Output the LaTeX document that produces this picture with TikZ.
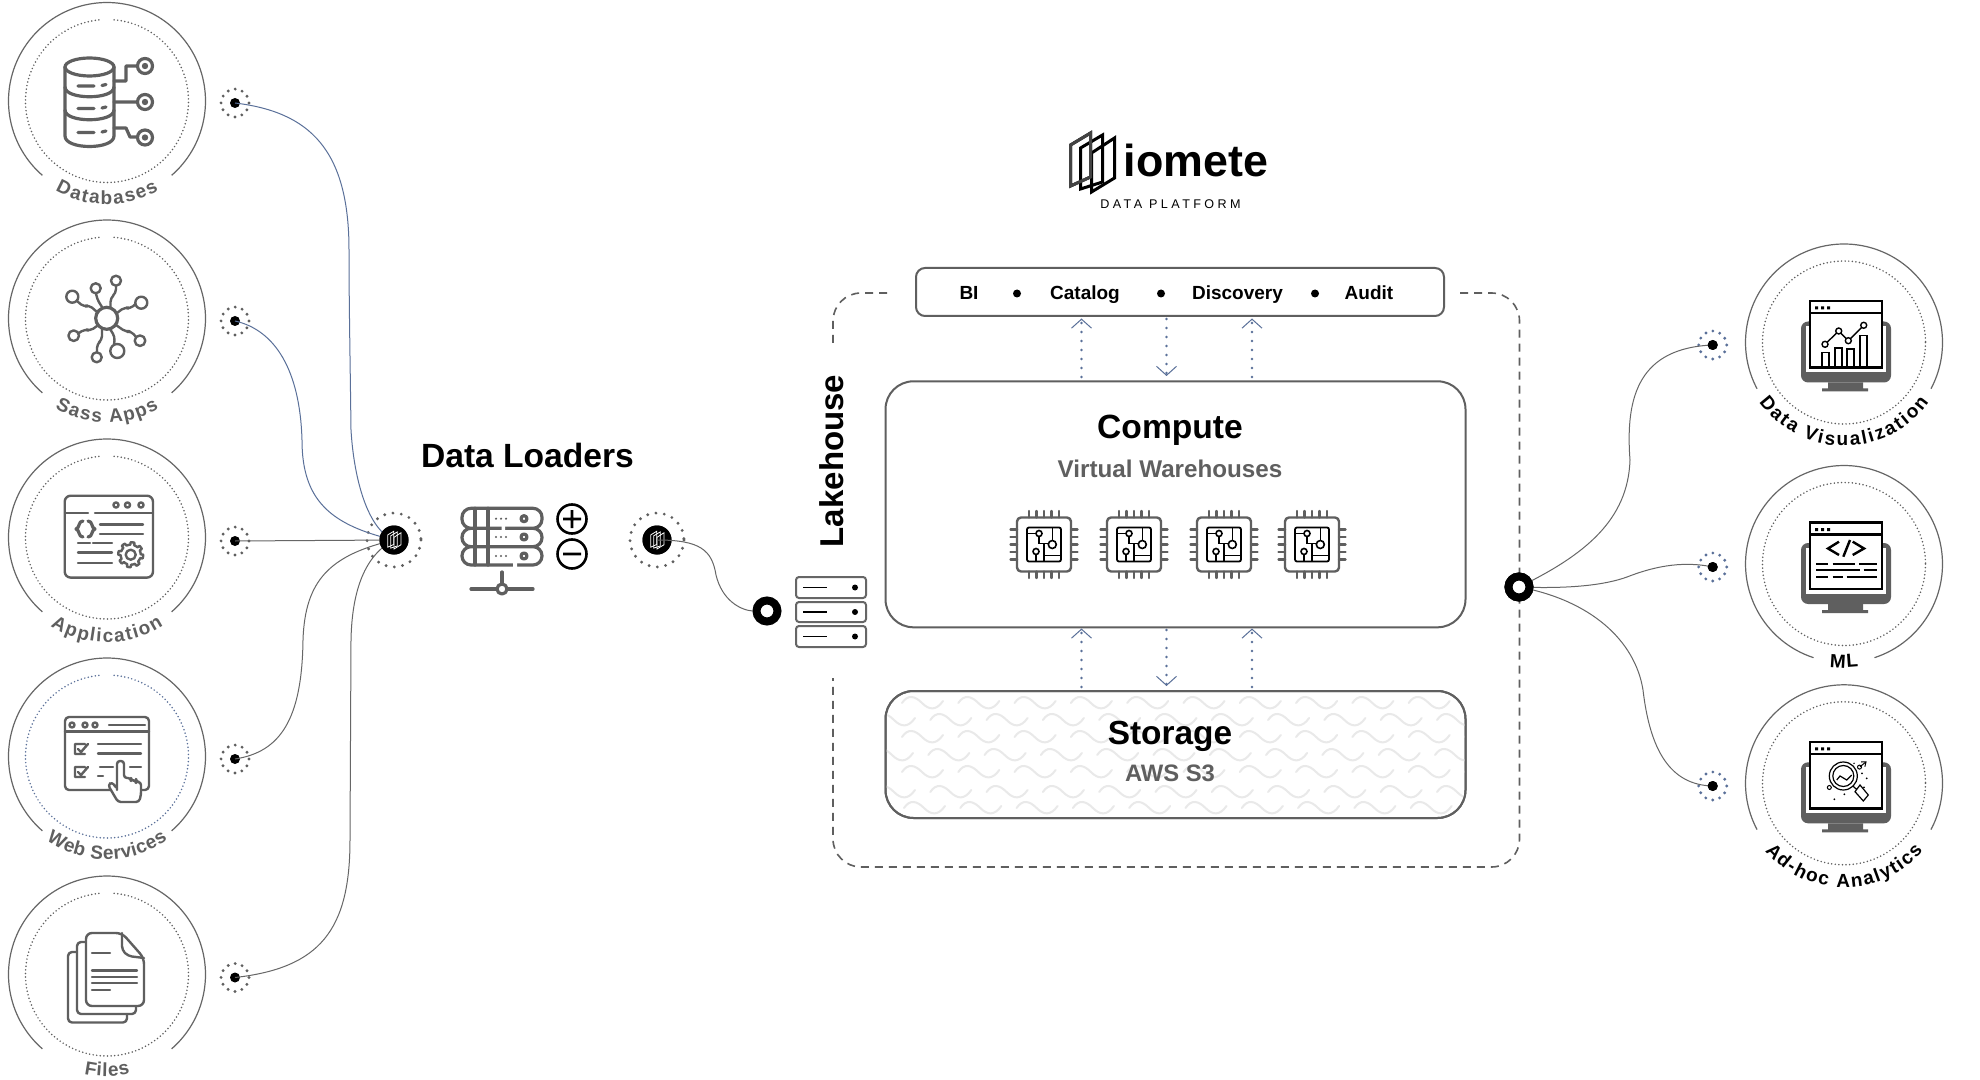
\documentclass[tikz,border=0pt]{standalone}
\usepackage{fontspec}
\setmainfont{Liberation Sans}
\newfontfamily\spacedfont[LetterSpace=27]{Liberation Sans}
\usetikzlibrary{arrows.meta,decorations.text}
\definecolor{lblgray}{HTML}{5F5F5F}
\definecolor{linegray}{HTML}{666666}
\definecolor{flowblue}{HTML}{5A7099}
\definecolor{wavegray}{HTML}{E9E9E9}
\newcommand\fsb[1]{\fontsize{#1pt}{#1pt}\selectfont\bfseries}
\tikzset{
 txt/.style={inner sep=0pt,anchor=base},
 conn/.style={draw=linegray,line width=0.5pt},
 connblue/.style={draw=flowblue,line width=0.5pt},
 outerc/.style={draw=linegray,line width=0.6pt},
 dotc/.style={line width=0.85pt,line cap=round,dash pattern=on 0pt off 1.8pt},
 icon/.style={draw=lblgray,line width=1.6pt,line cap=round,line join=round},
 iconthin/.style={draw=lblgray,line width=1.2pt,line cap=round,line join=round},
 srcdot/.style={circle,fill=black,inner sep=0pt,minimum size=5pt},
 hubnode/.style={circle,fill=black,inner sep=0pt,minimum size=14.5pt},
 junction/.style={circle,draw=black,fill=white,line width=4pt,inner sep=0pt,minimum size=10.5pt},
 smallring/.style={line width=1.6pt,line cap=round,dash pattern=on 0pt off 3.66pt,draw=#1},
 smallring/.default=lblgray,
 hubring/.style={draw=lblgray,line width=1.6pt,line cap=round,dash pattern=on 0pt off 4.2pt},
 panel/.style={draw=lblgray,line width=1pt,fill=white,inner sep=0pt,rectangle},
 dashframe/.style={draw=lblgray,line width=0.8pt,dash pattern=on 4pt off 3pt,rounded corners=14pt},
 dotarrow/.style={draw=flowblue,line width=1.3pt,line cap=round,dash pattern=on 0pt off 4.5pt,
   -{Straight Barb[length=4.5pt,width=10pt,line width=0.5pt,line cap=butt]}},
 chip/.pic={
   \draw[iconthin,rounded corners=2pt] (-27,-27) rectangle (27,27);
   \foreach \p in {-15,-7.5,0,7.5,15}{
     \draw[iconthin] (\p,-33.5)--(\p,-27) (\p,27)--(\p,33.5) (-33.5,\p)--(-27,\p) (27,\p)--(33.5,\p);}
   \draw[black,line width=0.9pt,rounded corners=1pt] (-17,-17) rectangle (17,17);
   \draw[black,line width=0.8pt] (-17,-11)--(-8,-11) (-5,-8)--(-5,-1)--(4.3,-1) (8.3,-4)--(8.3,-17)
     (0,-1)--(0,17) (-8,10)--(-8,17) (0,11)--(17,11);
   \draw[black,line width=0.8pt] (-5,-11) circle[radius=3] (8.3,0) circle[radius=4] (-8,7) circle[radius=3];
 },
 monitor/.pic={
   \fill[lblgray,rounded corners=3.5pt] (-43,-21) rectangle (47,40);
   \fill[white] (-38,-16) rectangle (42,30);
   \fill[lblgray] (-16,40) rectangle (19,46) (-22,46) rectangle (24,49);
   \draw[black,line width=1.3pt,fill=white] (-34,-41.5) rectangle (38,25);
   \draw[black,line width=1.1pt] (-34,-29.5)--(38,-29.5);
   \fill[black] (-28.8,-36) rectangle ++(3,3) (-22.8,-36) rectangle ++(3,3) (-16.8,-36) rectangle ++(3,3);
 },
}
\newcommand\outerarc[3]{%
 \pgfmathsetmacro\da{90+#3}\pgfmathsetmacro\db{450-#3}%
 \draw[outerc] plot[domain=\da:\db,samples=120] ({#1+98.5*cos(\x)},{#2+98.5*sin(\x)});}
\newcommand\bigdots[3]{% cx cy colour
 \draw[dotc,draw=#3] plot[domain=-85:265,samples=180] ({#1+81.5*cos(\x)},{#2+81.5*sin(\x)});}
\newcommand\arclabel[6]{% cx cy half r text colour
 \pgfmathsetmacro\da{90+#3}\pgfmathsetmacro\db{90-#3}%
 \path[decorate,decoration={text along path,text align={fit to path},
   text={|\fsb{9.5}\color{#6}|#5}}]
   plot[domain=\da:\db,samples=60] ({#1+#4*cos(\x)},{#2+#4*sin(\x)});}
\newcommand\logosheets[5]{% cx cy scale lw colour-of-first
 \begin{scope}[shift={(#1,#2)},scale=#3]
  \draw[draw=#5,line width=#4] (-21,-17)--(-1,-29)--(-1,15)--(-21,24)--cycle;
  \draw[draw=#5,line width=#4] (-11,-14)--(11,-27)--(11,20)--(-11,27)--cycle;
  \draw[draw=#5,line width=#4] (0,-9)--(23,-24)--(23,16)--(0,30)--cycle;
 \end{scope}}
\begin{document}
\begin{tikzpicture}[x=0.5pt,y=-0.5pt]
\useasboundingbox (0,0) rectangle (1980,1080);
\fill[white] (0,0) rectangle (1980,1080);

% ---------- source circles
\outerarc{107}{101}{41}\bigdots{107}{101}{lblgray}
\outerarc{107}{318.5}{41}\bigdots{107}{318.5}{lblgray}
\outerarc{107}{537.5}{41}\bigdots{107}{537.5}{lblgray}
\outerarc{107}{756.5}{41}\bigdots{107}{756.5}{flowblue}
\outerarc{107}{974.5}{41}\bigdots{107}{974.5}{lblgray}
\arclabel{107}{101}{30}{103.5}{Databases}{lblgray}
\arclabel{107}{318.5}{30}{104}{Sass Apps}{lblgray}
\arclabel{107}{537.5}{32.5}{105}{Application}{lblgray}
\arclabel{107}{756.5}{36}{103}{Web Services}{lblgray}
\arclabel{107}{974.5}{13}{102}{Files}{lblgray}

% Database icon
\draw[icon] (114,67)--(114,136) .. controls (114,150) and (65,150) .. (65,136)--(65,67);
\draw[icon] (89.5,67) ellipse[x radius=24.5,y radius=9];
\draw[icon] (65,87) .. controls (65,100) and (114,100) .. (114,87);
\draw[icon] (65,110) .. controls (65,123) and (114,123) .. (114,110);
\draw[icon] (78,86)--(94,86) (102,85.5)--(106,84.5) (78,108.5)--(94,108.5) (102,108)--(106,107) (78,132.5)--(94,132.5) (102,132)--(106,131);
\draw[icon] (114,81)--(126,81)--(126,66)--(137,66) (114,102)--(137,102) (114,128)--(126,128)--(130,137)--(137,137);
\foreach \yy in {66,102,137.5}{
 \draw[icon] (145,\yy) circle[radius=7.5];
 \fill[lblgray] (145,\yy) circle[radius=3.2];}

% Sass icon
\draw[icon] (106.7,318.3) circle[radius=11];
\draw[iconthin] (72.3,296.7) circle[radius=6] (95.7,288.3) circle[radius=5] (116,280.7) circle[radius=5]
  (141.3,302.7) circle[radius=6] (140,340.7) circle[radius=5.3] (117.3,351) circle[radius=7]
  (96.7,357.3) circle[radius=5] (73.7,335.7) circle[radius=5.3];
\draw[iconthin,rounded corners=2pt] (77,301)--(84,307)--(89,305)--(97,312) (96,293)--(97,299)--(102,307)
  (116,286)--(116,293)--(110.5,298)--(110.5,307) (135.5,304)--(130,309)--(125,307)--(117,313)
  (136,337)--(131,331)--(126,332)--(116,325) (114,344.5)--(115,337)--(110,329)
  (97,352)--(97,344)--(102,340)--(102,328) (79,333)--(85,329)--(90,331)--(97,326);

% Application icon
\draw[iconthin,rounded corners=3pt] (64.7,495.7) rectangle (153,577.6);
\draw[iconthin] (65,513)--(88,513) (95,513)--(153,513);
\draw[iconthin] (116,505) circle[radius=2.6] (127.5,505) circle[radius=2.6] (141,505) circle[radius=2.6];
\draw[icon] (83,521) .. controls (78,521) and (80,528) .. (76,529) .. controls (80,530) and (78,537) .. (83,537);
\draw[icon] (88,521) .. controls (93,521) and (91,528) .. (95,529) .. controls (91,530) and (93,537) .. (88,537);
\draw[iconthin] (100,524.4)--(143,524.4) (100,534)--(143,534) (78,543)--(90,543) (93,543)--(112,543)
  (78,552.6)--(112,552.6) (78,563)--(112,563);
\draw[iconthin,fill=white] plot[domain=0:360,samples=145] ({130.7+(sin(8*\x+20)>0?12.5:10)*cos(\x)},{554.7+(sin(8*\x+20)>0?12.5:10)*sin(\x)}) -- cycle;
\draw[iconthin] (130.7,554.7) circle[radius=5];

% Web services icon
\draw[iconthin,rounded corners=2pt] (65,717) rectangle (149,790);
\draw[iconthin] (65,731.5)--(149,731.5) (109,725)--(145,725);
\draw[iconthin] (72,725) circle[radius=2.5] (85,725) circle[radius=2.5] (95,725) circle[radius=2.5];
\draw[iconthin] (85,744)--(75,744)--(75,754)--(85,754) (78,749)--(81,752)--(88,744)
  (85,767)--(75,767)--(75,777)--(85,777) (78,772)--(81,775)--(88,767);
\draw[iconthin] (98,744)--(141,744) (98,753.5)--(141,753.5) (100,767)--(113,767) (130,767)--(141,767) (98,776)--(103,776);
\draw[iconthin,fill=white,rounded corners=1.5pt] (117,787)--(117,761)--(124,761)--(124,778)--(131,778)--(131,781)--(136,780)--(136,782)--(141,782)--(141,795)--(139,802)--(118,802)--(108,785)--(112,782)--(117,789)--cycle;

% Files icon
\draw[iconthin,rounded corners=2pt] (77,952)--(68,952)--(68,1022.5)--(127,1022.5)--(127,1014);
\draw[iconthin,rounded corners=2pt] (86,942)--(77,942)--(77,1014)--(136,1014)--(136,1006);
\draw[iconthin,rounded corners=3pt,fill=white] (86,933)--(122,933)--(144,958)--(144,1006)--(86,1006)--cycle;
\draw[iconthin,rounded corners=2pt] (122,933)--(122,950)--(128,956)--(144,958);
\draw[iconthin] (92,953)--(110,953) (92,970.5)--(137,970.5) (92,977)--(137,977) (92,983)--(137,983) (92,990)--(110,990);

% ---------- small source dots and hubs
\foreach \nm/\yy in {s1/103,s2/321,s3/541,s4/759,s5/977.5}{
 \draw[smallring] (235,\yy) circle[radius=14];
 \node[srcdot] (\nm) at (235,\yy) {};}
\draw[hubring] (394,540) circle[radius=27];
\node[hubnode] (hubA) at (394,540) {};
\draw[hubring] (657,540) circle[radius=27];
\node[hubnode] (hubB) at (657,540) {};

\draw[connblue] (s1.center) .. controls (310,112) and (349,150) .. (349,250) .. controls (349,300) and (350,350) .. (351,430) .. controls (354,480) and (368,530) .. (hubA.center);
\draw[connblue] (s2.center) .. controls (275,330) and (300,370) .. (302,440) .. controls (302,500) and (330,525) .. (hubA.center);
\draw[conn] (s3.center) -- (hubA.center);
\draw[conn] (s4.center) .. controls (280,752) and (302,720) .. (303,640) .. controls (305,580) and (330,555) .. (hubA.center);
\draw[conn] (s5.center) .. controls (320,968) and (350,930) .. (350,840) -- (351,640) .. controls (352,590) and (365,555) .. (hubA.center);
\node[hubnode] at (hubA) {};
\node[hubnode] at (hubB) {};
\logosheets{394}{540}{0.3}{0.4pt}{white}
\logosheets{657}{540}{0.3}{0.4pt}{white}

% ---------- data loaders
\node[txt,font=\fsb{16.8}] (loaders) at (527.5,467) {Data Loaders};
\begin{scope}
 \draw[icon,rounded corners=4.5pt] (462,508.3) rectangle (542,528.3) (462,528.3) rectangle (542,546.7) (462,546.7) rectangle (542,565);
 \fill[white] (501.5,526) rectangle (505,531) (513,563) rectangle (517,568);
 \draw[icon] (475,508.3)--(475,565) (488,508.3)--(488,565);
 \foreach \yy in {518.7,537,556}{
  \fill[lblgray] (496,\yy) circle[radius=1.2] (501,\yy) circle[radius=1.2] (506,\yy) circle[radius=1.2];
  \draw[icon] (524,\yy) circle[radius=3];}
 \draw[icon] (502,572)--(502,584) (471,589)--(497,589) (507,589)--(533,589);
 \draw[icon] (502,589) circle[radius=5];
\end{scope}
\draw[black,line width=1.3pt] (572,519) circle[radius=14.5] (572,554) circle[radius=14.5]
 (563,519)--(581,519) (572,510)--(572,528) (563,554)--(581,554);

% ---------- logo and title
\logosheets{1091.5}{162}{1}{1.5pt}{black}
\draw[draw=lblgray!70!black,line width=1.5pt] (1070.5,145)--(1090.5,133)--(1090.5,177)--(1070.5,186)--cycle;
\node[txt,anchor=base,font=\fsb{22.4}] (brand) at (1196,177) {iomete};
\node[txt,font=\fontsize{6.3pt}{6.3pt}\selectfont\spacedfont] (tagline) at (1170.5,209) {DATA PLATFORM};

% ---------- lakehouse frame
\coordinate (fa) at (833,343);
\coordinate (fb) at (889,293);
\coordinate (fc) at (1460,293);
\coordinate (fd) at (1519.5,867);
\coordinate (fe) at (833,678);
\draw[dashframe] (fa) -- (fa|-fb) -- (fb);
\draw[dashframe] (fc) -- (fc-|fd) -- (fd) -- (fd-|fe) -- (fe);
\node[txt,rotate=90,font=\fsb{16.5}] (lake) at (843,461) {Lakehouse};

% server stack
\foreach \a/\b in {577/598,602/622,626/647}{
 \draw[draw=linegray,line width=1pt,rounded corners=1.5pt] (796,\a) rectangle (866,\b);
 \draw[black,line width=0.8pt] (803,{(\a+\b)/2})--(827,{(\a+\b)/2});
 \fill[black] (855,{(\a+\b)/2}) circle[radius=3];}
\node[junction] (jl) at (767,611) {};
\draw[conn] (hubB.center) .. controls (700,540) and (712,550) .. (716,575) .. controls (722,600) and (740,610) .. (jl.west);

% ---------- boxes
\node[panel,rounded corners=4.5pt,minimum width=264pt,minimum height=24pt] (topbox) at (1180,292) {};
\node[txt,font=\fsb{9.5}] (t1) at (969,300) {BI};
\fill[black] (1017,293.5) circle[radius=4] (1161,293.5) circle[radius=4] (1315,293.5) circle[radius=4];
\node[txt,font=\fsb{9.5}] (t2) at (1085,300) {Catalog};
\node[txt,font=\fsb{9.5}] (t3) at (1237.5,300) {Discovery};
\node[txt,font=\fsb{9.5}] (t4) at (1369,300) {Audit};
\node[panel,rounded corners=14pt,minimum width=290pt,minimum height=123pt] (compute) at (1175.5,504.3) {};
\node[panel,rounded corners=14pt,minimum width=290pt,minimum height=63.5pt] (storage) at (1175.5,754.5) {};
\begin{scope}
 \clip[rounded corners=14pt] (885.5,691) rectangle (1465.5,818);
 \foreach \yy/\off in {703/0,720/-28,737/0,755/-30,772/0,792/-28,808/2}{
  \foreach \i in {0,...,10}{
   \pgfmathsetmacro\xa{902+\off+56.3*\i}
   \draw[wavegray,line width=1pt,line cap=round] (\xa,\yy) .. controls (\xa+6,\yy-9) and (\xa+13,\yy-7) .. (\xa+20,\yy) .. controls (\xa+27,\yy+7) and (\xa+34,\yy+8) .. (\xa+41,\yy-2);}}
\end{scope}
\draw[draw=lblgray,line width=1pt,rounded corners=14pt] (885.5,691) rectangle (1465.5,818);
\node[txt,font=\fsb{16.8}] (ctitle) at (1170,438) {Compute};
\node[txt,font=\fsb{12.1},text=lblgray] (csub) at (1170,477) {Virtual Warehouses};
\node[txt,font=\fsb{16.7}] (stitle) at (1170,744) {Storage};
\node[txt,font=\fsb{11.9},text=lblgray] (ssub) at (1170,781) {AWS S3};
\pic at (1044,544.5) {chip};
\pic at (1134,544.5) {chip};
\pic at (1224,544.5) {chip};
\pic at (1312,544.5) {chip};

% arrows
\coordinate (u1) at (1081.5,377); \coordinate (u2) at (1081.5,318.5);
\coordinate (d1) at (1166.5,319); \coordinate (d2) at (1166.5,376);
\coordinate (u3) at (1252,377); \coordinate (u4) at (1252,318.5);
\coordinate (u5) at (1081.5,687); \coordinate (u6) at (1081.5,628.5);
\coordinate (d3) at (1166.5,630); \coordinate (d4) at (1166.5,686);
\coordinate (u7) at (1252,687); \coordinate (u8) at (1252,628.5);
\draw[dotarrow] (u1)--(u2);
\draw[dotarrow] (d1)--(d2);
\draw[dotarrow] (u3)--(u4);
\draw[dotarrow] (u5)--(u6);
\draw[dotarrow] (d3)--(d4);
\draw[dotarrow] (u7)--(u8);

% ---------- right side
\outerarc{1844}{342.5}{62}
\outerarc{1844}{564}{18}
\outerarc{1844}{783.3}{62}
\foreach \cy in {342.5,564,783.3}{
 \draw[dotc,draw=lblgray] (1844,\cy) circle[radius=81.5];
 \pic at (1844,\cy) {monitor};}
\arclabel{1844}{342.5}{55}{103.5}{Data Visualization}{black}
\arclabel{1844}{564}{8}{103.7}{ML}{black}
\arclabel{1844}{783.3}{49.5}{104}{Ad-hoc Analytics}{black}

% chart
\begin{scope}[shift={(1844,342.5)}]
 \draw[black,line width=0.6pt] (-22,10) rectangle (-15,25) (-9,5.5) rectangle (-2,25) (3,6.5) rectangle (10,25) (16,-7) rectangle (23,25);
 \draw[black,line width=0.7pt] (-19,1.8)--(-5.3,-11.5)--(4.3,-1.8)--(19.7,-17.2);
 \foreach \p in {(-19,1.8),(-5.3,-11.5),(4.3,-1.8),(19.7,-17.2)}{\draw[black,line width=0.7pt,fill=white] \p circle[radius=3];}
\end{scope}
% code
\begin{scope}[shift={(1844,564)}]
 \draw[black,line width=1.2pt] (-5,-22.3)--(-16,-15.5)--(-5,-9) (6,-24)--(-0.7,-7.3) (8.7,-22.3)--(20,-15.5)--(8.7,-9);
 \draw[black,line width=1pt] (-28,0)--(-15.7,0) (-11.3,0)--(11,0) (15.3,0)--(32.7,0)
   (-28,6)--(16,6) (19.7,6)--(32.7,6)
   (-28,12.7)--(-15.7,12.7) (-11.3,12.7)--(-0.7,12.7) (2.7,12.7)--(32.7,12.7);
\end{scope}
% magnifier
\begin{scope}[shift={(1844,783.3)}]
 \draw[black,line width=0.6pt] (-0.7,-7.3) circle[radius=14] (-0.7,-7.3) circle[radius=10.5];
 \draw[black,line width=0.6pt] (8.5,2.5)--(12,5.5) (16,1.7)--(24.3,11.7)--(19.3,17.7)--(11,8.4)--cycle;
 \draw[black,line width=0.6pt] (-7.3,-3.3)--(-4,-7.3)--(2.7,-3.3)--(7.7,-8.3);
 \draw[black,line width=0.5pt,-{Straight Barb[length=2pt,width=3pt]}] (16,-16.6)--(22.7,-22);
 \draw[black,line width=0.5pt] (15.5,-16.2) circle[radius=2] (-14.7,4.2) circle[radius=2];
 \fill[black] (22.7,-5) circle[radius=1] (18,-10) circle[radius=1] (-9.7,16) circle[radius=1] (0.3,11) circle[radius=1] (20,4) circle[radius=1] (10,-20) circle[radius=.8];
\end{scope}

% right connectors
\foreach \nm/\yy in {r1/345,r2/567,r3/786}{
 \draw[smallring=flowblue] (1712.7,\yy) circle[radius=14];
 \node[srcdot] (\nm) at (1712.7,\yy) {};}
\node[junction] (jr) at (1519,587) {};
\draw[conn] (jr.center) .. controls (1585,555) and (1628,520) .. (1630,460) .. controls (1625,395) and (1640,348) .. (r1.center);
\draw[conn] (jr.center) .. controls (1570,589) and (1605,585) .. (1627,577) .. controls (1650,568) and (1680,560) .. (r2.center);
\draw[conn] (jr.center) .. controls (1590,600) and (1635,640) .. (1643,690) .. controls (1650,750) and (1670,785) .. (r3.center);
\node[junction] at (jr) {};
\node[srcdot] at (r1) {};
\node[srcdot] at (r2) {};
\node[srcdot] at (r3) {};
\end{tikzpicture}
\end{document}
